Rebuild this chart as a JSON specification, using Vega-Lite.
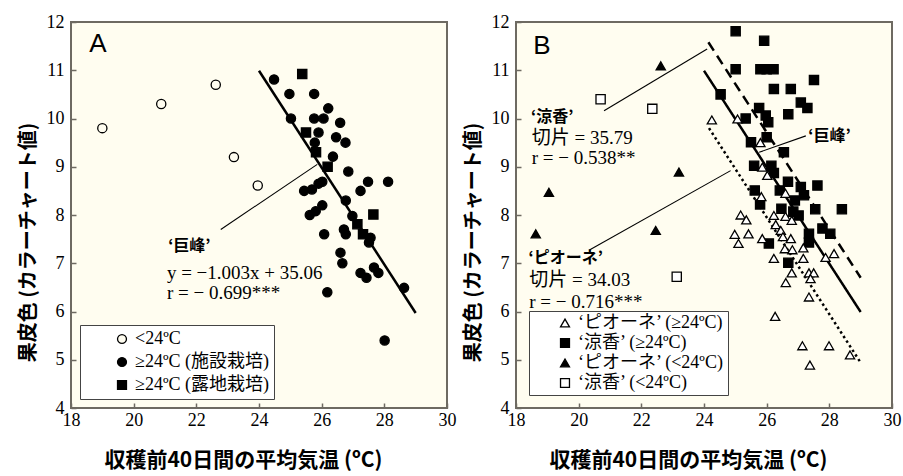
{
 "$schema": "https://vega.github.io/schema/vega-lite/v6.json",
 "background": "white",
 "autosize": {"type": "pad"},
 "padding": {"left": 17, "top": 12, "right": 6, "bottom": 6},
 "config": {
  "view": {"fill": "#fffdf0", "stroke": "#6e6a62", "strokeWidth": 2},
  "axis": {"domain": false, "grid": false, "ticks": true, "tickSize": -5, "tickColor": "#6e6a62", "tickWidth": 1.5,
   "labelFont": "Liberation Serif", "labelFontSize": 18, "labelColor": "black", "labelFlush": false, "labelOverlap": false,
   "titleFont": "Noto Sans CJK JP", "titleFontWeight": "bold", "titleFontSize": 20, "titleColor": "black"},
  "axisX": {"labelPadding": 8, "titlePadding": 20, "titleFontSize": 21, "titleX": 172},
  "axisY": {"labelPadding": 12, "titlePadding": 8, "titleY": 220},
  "legend": {"fillColor": "white", "strokeColor": "#444", "labelFont": "Liberation Serif, Noto Sans CJK JP", "labelFontSize": 18, "labelColor": "black", "symbolStrokeColor": "black", "symbolStrokeWidth": 1.3, "symbolSize": 80}
 },
 "datasets": {
  "ptsA": [
   {"x": 19.0, "y": 9.8, "G": "<24ºC"},
   {"x": 20.88, "y": 10.3, "G": "<24ºC"},
   {"x": 22.62, "y": 10.7, "G": "<24ºC"},
   {"x": 23.2, "y": 9.2, "G": "<24ºC"},
   {"x": 23.96, "y": 8.61, "G": "<24ºC"},
   {"x": 24.48, "y": 10.81, "G": "≥24ºC (施設栽培)"},
   {"x": 24.97, "y": 10.51, "G": "≥24ºC (施設栽培)"},
   {"x": 25.76, "y": 10.51, "G": "≥24ºC (施設栽培)"},
   {"x": 26.21, "y": 10.21, "G": "≥24ºC (施設栽培)"},
   {"x": 25.02, "y": 10.0, "G": "≥24ºC (施設栽培)"},
   {"x": 25.76, "y": 10.0, "G": "≥24ºC (施設栽培)"},
   {"x": 26.06, "y": 10.0, "G": "≥24ºC (施設栽培)"},
   {"x": 26.59, "y": 9.91, "G": "≥24ºC (施設栽培)"},
   {"x": 25.9, "y": 9.71, "G": "≥24ºC (施設栽培)"},
   {"x": 26.46, "y": 9.61, "G": "≥24ºC (施設栽培)"},
   {"x": 26.76, "y": 9.5, "G": "≥24ºC (施設栽培)"},
   {"x": 25.78, "y": 9.5, "G": "≥24ºC (施設栽培)"},
   {"x": 26.36, "y": 9.21, "G": "≥24ºC (施設栽培)"},
   {"x": 26.85, "y": 8.9, "G": "≥24ºC (施設栽培)"},
   {"x": 27.48, "y": 8.69, "G": "≥24ºC (施設栽培)"},
   {"x": 28.12, "y": 8.69, "G": "≥24ºC (施設栽培)"},
   {"x": 27.24, "y": 8.5, "G": "≥24ºC (施設栽培)"},
   {"x": 25.44, "y": 8.5, "G": "≥24ºC (施設栽培)"},
   {"x": 25.69, "y": 8.53, "G": "≥24ºC (施設栽培)"},
   {"x": 25.9, "y": 8.65, "G": "≥24ºC (施設栽培)"},
   {"x": 26.02, "y": 8.69, "G": "≥24ºC (施設栽培)"},
   {"x": 26.77, "y": 8.3, "G": "≥24ºC (施設栽培)"},
   {"x": 26.02, "y": 8.2, "G": "≥24ºC (施設栽培)"},
   {"x": 25.81, "y": 8.08, "G": "≥24ºC (施設栽培)"},
   {"x": 25.62, "y": 8.0, "G": "≥24ºC (施設栽培)"},
   {"x": 26.98, "y": 7.98, "G": "≥24ºC (施設栽培)"},
   {"x": 26.71, "y": 7.7, "G": "≥24ºC (施設栽培)"},
   {"x": 26.77, "y": 7.6, "G": "≥24ºC (施設栽培)"},
   {"x": 26.08, "y": 7.6, "G": "≥24ºC (施設栽培)"},
   {"x": 27.51, "y": 7.43, "G": "≥24ºC (施設栽培)"},
   {"x": 27.56, "y": 7.53, "G": "≥24ºC (施設栽培)"},
   {"x": 26.6, "y": 7.22, "G": "≥24ºC (施設栽培)"},
   {"x": 26.66, "y": 7.0, "G": "≥24ºC (施設栽培)"},
   {"x": 27.24, "y": 6.8, "G": "≥24ºC (施設栽培)"},
   {"x": 27.43, "y": 6.7, "G": "≥24ºC (施設栽培)"},
   {"x": 27.67, "y": 6.91, "G": "≥24ºC (施設栽培)"},
   {"x": 27.81, "y": 6.8, "G": "≥24ºC (施設栽培)"},
   {"x": 28.63, "y": 6.49, "G": "≥24ºC (施設栽培)"},
   {"x": 26.18, "y": 6.4, "G": "≥24ºC (施設栽培)"},
   {"x": 28.01, "y": 5.4, "G": "≥24ºC (施設栽培)"},
   {"x": 25.38, "y": 10.92, "G": "≥24ºC (露地栽培)"},
   {"x": 25.5, "y": 9.71, "G": "≥24ºC (露地栽培)"},
   {"x": 25.82, "y": 9.3, "G": "≥24ºC (露地栽培)"},
   {"x": 26.19, "y": 9.0, "G": "≥24ºC (露地栽培)"},
   {"x": 27.65, "y": 8.01, "G": "≥24ºC (露地栽培)"},
   {"x": 27.14, "y": 7.81, "G": "≥24ºC (露地栽培)"},
   {"x": 27.32, "y": 7.6, "G": "≥24ºC (露地栽培)"}
  ],
  "ptsB": [
   {"x": 25.01, "y": 11.81, "G": "‘涼香’ (≥24ºC)"},
   {"x": 25.92, "y": 11.61, "G": "‘涼香’ (≥24ºC)"},
   {"x": 25.01, "y": 11.02, "G": "‘涼香’ (≥24ºC)"},
   {"x": 25.8, "y": 11.02, "G": "‘涼香’ (≥24ºC)"},
   {"x": 26.0, "y": 11.02, "G": "‘涼香’ (≥24ºC)"},
   {"x": 26.22, "y": 11.02, "G": "‘涼香’ (≥24ºC)"},
   {"x": 27.51, "y": 10.8, "G": "‘涼香’ (≥24ºC)"},
   {"x": 26.23, "y": 10.61, "G": "‘涼香’ (≥24ºC)"},
   {"x": 26.77, "y": 10.61, "G": "‘涼香’ (≥24ºC)"},
   {"x": 27.09, "y": 10.33, "G": "‘涼香’ (≥24ºC)"},
   {"x": 27.3, "y": 10.22, "G": "‘涼香’ (≥24ºC)"},
   {"x": 26.69, "y": 10.09, "G": "‘涼香’ (≥24ºC)"},
   {"x": 24.53, "y": 10.5, "G": "‘涼香’ (≥24ºC)"},
   {"x": 25.33, "y": 10.0, "G": "‘涼香’ (≥24ºC)"},
   {"x": 25.76, "y": 10.22, "G": "‘涼香’ (≥24ºC)"},
   {"x": 25.97, "y": 10.06, "G": "‘涼香’ (≥24ºC)"},
   {"x": 26.05, "y": 9.92, "G": "‘涼香’ (≥24ºC)"},
   {"x": 25.5, "y": 9.51, "G": "‘涼香’ (≥24ºC)"},
   {"x": 26.0, "y": 9.61, "G": "‘涼香’ (≥24ºC)"},
   {"x": 26.55, "y": 9.3, "G": "‘涼香’ (≥24ºC)"},
   {"x": 25.6, "y": 9.02, "G": "‘涼香’ (≥24ºC)"},
   {"x": 26.15, "y": 9.02, "G": "‘涼香’ (≥24ºC)"},
   {"x": 26.23, "y": 8.87, "G": "‘涼香’ (≥24ºC)"},
   {"x": 26.68, "y": 8.69, "G": "‘涼香’ (≥24ºC)"},
   {"x": 27.62, "y": 8.61, "G": "‘涼香’ (≥24ºC)"},
   {"x": 27.09, "y": 8.58, "G": "‘涼香’ (≥24ºC)"},
   {"x": 25.62, "y": 8.51, "G": "‘涼香’ (≥24ºC)"},
   {"x": 26.42, "y": 8.51, "G": "‘涼香’ (≥24ºC)"},
   {"x": 27.19, "y": 8.41, "G": "‘涼香’ (≥24ºC)"},
   {"x": 26.9, "y": 8.3, "G": "‘涼香’ (≥24ºC)"},
   {"x": 25.79, "y": 8.22, "G": "‘涼香’ (≥24ºC)"},
   {"x": 26.47, "y": 8.13, "G": "‘涼香’ (≥24ºC)"},
   {"x": 26.85, "y": 8.07, "G": "‘涼香’ (≥24ºC)"},
   {"x": 27.55, "y": 8.12, "G": "‘涼香’ (≥24ºC)"},
   {"x": 28.4, "y": 8.12, "G": "‘涼香’ (≥24ºC)"},
   {"x": 27.02, "y": 7.99, "G": "‘涼香’ (≥24ºC)"},
   {"x": 26.07, "y": 7.41, "G": "‘涼香’ (≥24ºC)"},
   {"x": 26.69, "y": 7.01, "G": "‘涼香’ (≥24ºC)"},
   {"x": 27.35, "y": 7.61, "G": "‘涼香’ (≥24ºC)"},
   {"x": 27.35, "y": 7.43, "G": "‘涼香’ (≥24ºC)"},
   {"x": 27.78, "y": 7.72, "G": "‘涼香’ (≥24ºC)"},
   {"x": 28.03, "y": 7.61, "G": "‘涼香’ (≥24ºC)"},
   {"x": 24.25, "y": 9.97, "G": "‘ピオーネ’ (≥24ºC)"},
   {"x": 25.07, "y": 9.99, "G": "‘ピオーネ’ (≥24ºC)"},
   {"x": 25.8, "y": 9.5, "G": "‘ピオーネ’ (≥24ºC)"},
   {"x": 25.86, "y": 8.99, "G": "‘ピオーネ’ (≥24ºC)"},
   {"x": 26.02, "y": 8.82, "G": "‘ピオーネ’ (≥24ºC)"},
   {"x": 25.83, "y": 8.38, "G": "‘ピオーネ’ (≥24ºC)"},
   {"x": 26.6, "y": 8.45, "G": "‘ピオーネ’ (≥24ºC)"},
   {"x": 25.17, "y": 8.0, "G": "‘ピオーネ’ (≥24ºC)"},
   {"x": 25.35, "y": 7.9, "G": "‘ピオーネ’ (≥24ºC)"},
   {"x": 24.98, "y": 7.6, "G": "‘ピオーネ’ (≥24ºC)"},
   {"x": 25.1, "y": 7.41, "G": "‘ピオーネ’ (≥24ºC)"},
   {"x": 25.42, "y": 7.61, "G": "‘ピオーネ’ (≥24ºC)"},
   {"x": 25.86, "y": 7.51, "G": "‘ピオーネ’ (≥24ºC)"},
   {"x": 26.23, "y": 7.99, "G": "‘ピオーネ’ (≥24ºC)"},
   {"x": 26.29, "y": 7.8, "G": "‘ピオーネ’ (≥24ºC)"},
   {"x": 26.45, "y": 7.68, "G": "‘ピオーネ’ (≥24ºC)"},
   {"x": 26.52, "y": 7.55, "G": "‘ピオーネ’ (≥24ºC)"},
   {"x": 26.6, "y": 7.97, "G": "‘ピオーネ’ (≥24ºC)"},
   {"x": 26.8, "y": 7.89, "G": "‘ピオーネ’ (≥24ºC)"},
   {"x": 26.77, "y": 7.51, "G": "‘ピオーネ’ (≥24ºC)"},
   {"x": 26.58, "y": 7.3, "G": "‘ピオーネ’ (≥24ºC)"},
   {"x": 26.82, "y": 7.28, "G": "‘ピオーネ’ (≥24ºC)"},
   {"x": 26.23, "y": 7.1, "G": "‘ピオーネ’ (≥24ºC)"},
   {"x": 27.17, "y": 7.32, "G": "‘ピオーネ’ (≥24ºC)"},
   {"x": 27.17, "y": 7.1, "G": "‘ピオーネ’ (≥24ºC)"},
   {"x": 26.8, "y": 6.8, "G": "‘ピオーネ’ (≥24ºC)"},
   {"x": 26.61, "y": 6.6, "G": "‘ピオーネ’ (≥24ºC)"},
   {"x": 27.35, "y": 6.8, "G": "‘ピオーネ’ (≥24ºC)"},
   {"x": 27.5, "y": 6.8, "G": "‘ピオーネ’ (≥24ºC)"},
   {"x": 27.4, "y": 6.68, "G": "‘ピオーネ’ (≥24ºC)"},
   {"x": 27.35, "y": 6.3, "G": "‘ピオーネ’ (≥24ºC)"},
   {"x": 27.88, "y": 7.12, "G": "‘ピオーネ’ (≥24ºC)"},
   {"x": 28.15, "y": 7.2, "G": "‘ピオーネ’ (≥24ºC)"},
   {"x": 26.27, "y": 5.9, "G": "‘ピオーネ’ (≥24ºC)"},
   {"x": 27.14, "y": 5.29, "G": "‘ピオーネ’ (≥24ºC)"},
   {"x": 27.99, "y": 5.29, "G": "‘ピオーネ’ (≥24ºC)"},
   {"x": 27.38, "y": 4.89, "G": "‘ピオーネ’ (≥24ºC)"},
   {"x": 28.66, "y": 5.1, "G": "‘ピオーネ’ (≥24ºC)"},
   {"x": 22.62, "y": 11.09, "G": "‘ピオーネ’ (<24ºC)"},
   {"x": 19.05, "y": 8.47, "G": "‘ピオーネ’ (<24ºC)"},
   {"x": 23.2, "y": 8.89, "G": "‘ピオーネ’ (<24ºC)"},
   {"x": 18.63, "y": 7.61, "G": "‘ピオーネ’ (<24ºC)"},
   {"x": 22.46, "y": 7.68, "G": "‘ピオーネ’ (<24ºC)"},
   {"x": 20.7, "y": 10.4, "G": "‘涼香’ (<24ºC)"},
   {"x": 22.35, "y": 10.2, "G": "‘涼香’ (<24ºC)"},
   {"x": 23.13, "y": 6.72, "G": "‘涼香’ (<24ºC)"}
  ],
  "regA": [
   {"x": 24.0, "y": 10.99, "id": "巨峰"},
   {"x": 29.0, "y": 5.97, "id": "巨峰"}
  ],
  "regB": [
   {"x": 24.14, "y": 11.58, "id": "涼香"},
   {"x": 29.0, "y": 6.7, "id": "涼香"},
   {"x": 24.0, "y": 10.99, "id": "巨峰"},
   {"x": 29.0, "y": 5.99, "id": "巨峰"},
   {"x": 24.16, "y": 9.8, "id": "ピオーネ"},
   {"x": 29.0, "y": 4.94, "id": "ピオーネ"}
  ],
  "leadA": [
   {"x": 22.78, "y": 7.7, "id": "a"},
   {"x": 25.86, "y": 9.05, "id": "a"}
  ],
  "leadB": [
   {"x": 20.81, "y": 10.16, "id": "涼香"},
   {"x": 24.1, "y": 11.44, "id": "涼香"},
   {"x": 25.76, "y": 9.3, "id": "巨峰"},
   {"x": 27.25, "y": 9.64, "id": "巨峰"},
   {"x": 20.33, "y": 7.27, "id": "ピオーネ"},
   {"x": 24.85, "y": 8.92, "id": "ピオーネ"}
  ],
  "txtA": [
   {"x": 18.86, "y": 11.54, "t": "A", "k": "panel"},
   {"x": 21.1, "y": 7.36, "t": "‘巨峰’", "k": "name"},
   {"x": 21.06, "y": 6.8, "t": "y = −1.003x + 35.06", "k": "eq"},
   {"x": 21.06, "y": 6.39, "t": "r = − 0.699***", "k": "eq"}
  ],
  "txtB": [
   {"x": 18.83, "y": 11.5, "t": "B", "k": "panel"},
   {"x": 18.48, "y": 10.04, "t": "‘涼香’", "k": "name"},
   {"x": 18.5, "y": 9.6, "t": "切片 = 35.79", "k": "eq"},
   {"x": 18.5, "y": 9.19, "t": "r = − 0.538**", "k": "eq"},
   {"x": 27.33, "y": 9.64, "t": "‘巨峰’", "k": "name"},
   {"x": 18.4, "y": 7.1, "t": "‘ピオーネ’", "k": "name"},
   {"x": 18.42, "y": 6.65, "t": "切片 = 34.03", "k": "eq"},
   {"x": 18.42, "y": 6.2, "t": "r = − 0.716***", "k": "eq"}
  ]
 },
 "bounds": "flush",
 "spacing": 69,
 "resolve": {"scale": {"shape": "independent", "fill": "independent", "stroke": "independent", "strokeDash": "independent"}, "legend": {"shape": "independent", "fill": "independent", "stroke": "independent"}},
 "hconcat": [
  {
   "width": 376, "height": 386,
   "encoding": {
    "x": {"field": "x", "type": "quantitative", "scale": {"domain": [18, 30], "nice": false, "zero": false}, "axis": {"values": [18, 20, 22, 24, 26, 28, 30], "title": "収穫前40日間の平均気温 (ºC)"}},
    "y": {"field": "y", "type": "quantitative", "scale": {"domain": [4, 12], "nice": false, "zero": false}, "axis": {"values": [4, 5, 6, 7, 8, 9, 10, 11, 12], "title": "果皮色 (カラーチャート値)"}}
   },
   "layer": [
    {"data": {"name": "leadA"}, "mark": {"type": "line", "stroke": "black", "strokeWidth": 1.1}, "encoding": {"detail": {"field": "id"}}},
    {"data": {"name": "regA"}, "mark": {"type": "line", "stroke": "black", "strokeWidth": 2.5}, "encoding": {"detail": {"field": "id"}}},
    {"data": {"name": "ptsA"}, "mark": {"type": "point", "size": 85, "strokeWidth": 1.3, "opacity": 1},
     "encoding": {
      "shape": {"field": "G", "type": "nominal", "scale": {"domain": ["<24ºC", "≥24ºC (施設栽培)", "≥24ºC (露地栽培)"], "range": ["circle", "circle", "square"]}, "legend": {"title": null, "orient": "bottom-left", "offset": 9, "padding": 5, "rowPadding": 5, "symbolOffset": 28, "labelOffset": 4}},
      "fill": {"field": "G", "type": "nominal", "scale": {"domain": ["<24ºC", "≥24ºC (施設栽培)", "≥24ºC (露地栽培)"], "range": ["#fffdf0", "black", "black"]}, "legend": {"title": null, "orient": "bottom-left", "offset": 9, "padding": 5, "rowPadding": 5, "symbolOffset": 28, "labelOffset": 4}},
      "stroke": {"field": "G", "type": "nominal", "scale": {"domain": ["<24ºC", "≥24ºC (施設栽培)", "≥24ºC (露地栽培)"], "range": ["black", "black", "black"]}, "legend": {"title": null, "orient": "bottom-left", "offset": 9, "padding": 5, "rowPadding": 5, "symbolOffset": 28, "labelOffset": 4}}
     }},
    {"data": {"name": "txtA"}, "transform": [{"filter": "datum.k == 'panel'"}], "mark": {"type": "text", "font": "Liberation Sans", "fontSize": 26, "align": "center", "baseline": "middle", "color": "black"}, "encoding": {"text": {"field": "t"}}},
    {"data": {"name": "txtA"}, "transform": [{"filter": "datum.k == 'name'"}], "mark": {"type": "text", "font": "Noto Sans CJK JP", "fontWeight": "bold", "fontSize": 16, "align": "left", "baseline": "middle", "color": "black"}, "encoding": {"text": {"field": "t"}}},
    {"data": {"name": "txtA"}, "transform": [{"filter": "datum.k == 'eq'"}], "mark": {"type": "text", "font": "Liberation Serif, Noto Sans CJK JP", "fontSize": 19, "align": "left", "baseline": "middle", "color": "black"}, "encoding": {"text": {"field": "t"}}}
   ]
  },
  {
   "width": 376, "height": 386,
   "encoding": {
    "x": {"field": "x", "type": "quantitative", "scale": {"domain": [18, 30], "nice": false, "zero": false}, "axis": {"values": [18, 20, 22, 24, 26, 28, 30], "title": "収穫前40日間の平均気温 (ºC)"}},
    "y": {"field": "y", "type": "quantitative", "scale": {"domain": [4, 12], "nice": false, "zero": false}, "axis": {"values": [4, 5, 6, 7, 8, 9, 10, 11, 12], "title": "果皮色 (カラーチャート値)"}}
   },
   "layer": [
    {"data": {"name": "leadB"}, "mark": {"type": "line", "stroke": "black", "strokeWidth": 1.1}, "encoding": {"detail": {"field": "id"}}},
    {"data": {"name": "regB"}, "mark": {"type": "line", "stroke": "black", "strokeWidth": 2.5},
     "encoding": {"strokeDash": {"field": "id", "type": "nominal", "scale": {"domain": ["涼香", "巨峰", "ピオーネ"], "range": [[10, 6], [1, 0], [2.5, 3]]}, "legend": null}}},
    {"data": {"name": "ptsB"}, "mark": {"type": "point", "size": 85, "strokeWidth": 1.3, "opacity": 1},
     "encoding": {
      "shape": {"field": "G", "type": "nominal", "scale": {"domain": ["‘ピオーネ’ (≥24ºC)", "‘涼香’ (≥24ºC)", "‘ピオーネ’ (<24ºC)", "‘涼香’ (<24ºC)"], "range": ["triangle-up", "square", "triangle-up", "square"]}, "legend": {"title": null, "orient": "bottom-left", "offset": 13, "padding": 3, "rowPadding": 2, "symbolOffset": 24, "labelOffset": 4}},
      "fill": {"field": "G", "type": "nominal", "scale": {"domain": ["‘ピオーネ’ (≥24ºC)", "‘涼香’ (≥24ºC)", "‘ピオーネ’ (<24ºC)", "‘涼香’ (<24ºC)"], "range": ["white", "black", "black", "white"]}, "legend": {"title": null, "orient": "bottom-left", "offset": 13, "padding": 3, "rowPadding": 2, "symbolOffset": 24, "labelOffset": 4}},
      "stroke": {"field": "G", "type": "nominal", "scale": {"domain": ["‘ピオーネ’ (≥24ºC)", "‘涼香’ (≥24ºC)", "‘ピオーネ’ (<24ºC)", "‘涼香’ (<24ºC)"], "range": ["black", "black", "black", "black"]}, "legend": {"title": null, "orient": "bottom-left", "offset": 13, "padding": 3, "rowPadding": 2, "symbolOffset": 24, "labelOffset": 4}}
     }},
    {"data": {"name": "txtB"}, "transform": [{"filter": "datum.k == 'panel'"}], "mark": {"type": "text", "font": "Liberation Sans", "fontSize": 26, "align": "center", "baseline": "middle", "color": "black"}, "encoding": {"text": {"field": "t"}}},
    {"data": {"name": "txtB"}, "transform": [{"filter": "datum.k == 'name'"}], "mark": {"type": "text", "font": "Noto Sans CJK JP", "fontWeight": "bold", "fontSize": 16, "align": "left", "baseline": "middle", "color": "black"}, "encoding": {"text": {"field": "t"}}},
    {"data": {"name": "txtB"}, "transform": [{"filter": "datum.k == 'eq'"}], "mark": {"type": "text", "font": "Liberation Serif, Noto Sans CJK JP", "fontSize": 19, "align": "left", "baseline": "middle", "color": "black"}, "encoding": {"text": {"field": "t"}}}
   ]
  }
 ]
}
